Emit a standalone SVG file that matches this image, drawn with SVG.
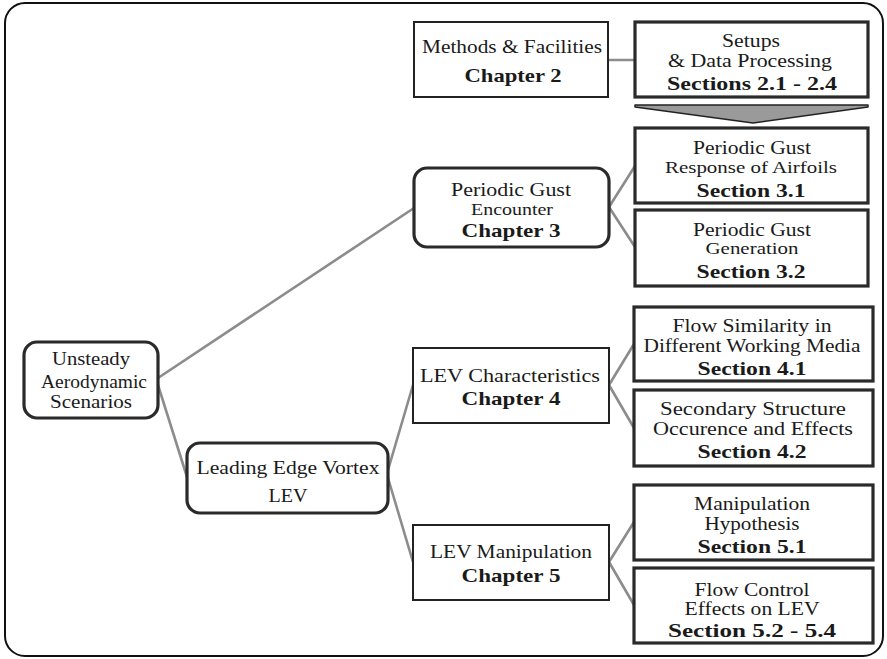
<svg xmlns="http://www.w3.org/2000/svg" width="887" height="659" viewBox="0 0 887 659">
<style>
text{font-family:"Liberation Serif","DejaVu Serif","Times New Roman",serif;font-size:19px;fill:#1a1a1a;text-anchor:middle}
.b{font-weight:bold;font-size:19.5px}
.s{font-size:17px}
.xs{font-size:16px}
.m{font-size:18px}
.thin{fill:#fff;stroke:#222;stroke-width:2}
.thick{fill:#fff;stroke:#2a2a2a;stroke-width:3.2}
.rnd{fill:#fff;stroke:#2a2a2a;stroke-width:3.2}
#connectors line{stroke:#8c8c8c;stroke-width:2.6;stroke-linecap:round}
</style>
<rect x="5" y="3" width="878" height="653" rx="20" ry="20" fill="#fff" stroke="#111" stroke-width="2"/>
<g id="connectors">
<line x1="158" y1="378" x2="414" y2="208"/>
<line x1="158" y1="385" x2="187" y2="477"/>
<line x1="388" y1="470" x2="413" y2="385"/>
<line x1="388" y1="478" x2="413" y2="562"/>
<line x1="609" y1="207" x2="635" y2="166"/>
<line x1="609" y1="207" x2="635" y2="247"/>
<line x1="608" y1="60" x2="635" y2="60"/>
<line x1="609" y1="385" x2="634" y2="344"/>
<line x1="609" y1="385" x2="634" y2="428"/>
<line x1="609" y1="562" x2="634" y2="522"/>
<line x1="609" y1="562" x2="634" y2="605"/>
</g>
<g id="arrow">
<polygon points="635,105 868,105 868,107 753,123 635,107" fill="#9a9a9a" stroke="#222" stroke-width="1.5" stroke-linejoin="round"/>
</g>
<g id="methods">
<rect class="thin" x="414" y="22" width="194" height="75"/>
<text x="512" y="53" textLength="180" lengthAdjust="spacingAndGlyphs">Methods &amp; Facilities</text>
<text class="b" x="513" y="82" textLength="97" lengthAdjust="spacingAndGlyphs">Chapter 2</text>
</g>
<g id="setups">
<rect class="thick" x="635" y="22" width="233" height="75"/>
<text x="751" y="47" textLength="58" lengthAdjust="spacingAndGlyphs">Setups</text>
<text x="750" y="67" textLength="164" lengthAdjust="spacingAndGlyphs">&amp; Data Processing</text>
<text class="b" x="752" y="90" textLength="170" lengthAdjust="spacingAndGlyphs">Sections 2.1 - 2.4</text>
</g>
<g id="response">
<rect class="thick" x="635" y="128" width="233" height="75"/>
<text class="m" x="752" y="154" textLength="118" lengthAdjust="spacingAndGlyphs">Periodic Gust</text>
<text class="xs" x="751" y="173" textLength="172" lengthAdjust="spacingAndGlyphs">Response of Airfoils</text>
<text class="b" x="751" y="197" textLength="109" lengthAdjust="spacingAndGlyphs">Section 3.1</text>
</g>
<g id="generation">
<rect class="thick" x="635" y="210" width="233" height="76"/>
<text class="m" x="752" y="236" textLength="118" lengthAdjust="spacingAndGlyphs">Periodic Gust</text>
<text class="s" x="752" y="254" textLength="93" lengthAdjust="spacingAndGlyphs">Generation</text>
<text class="b" x="751" y="278" textLength="109" lengthAdjust="spacingAndGlyphs">Section 3.2</text>
</g>
<g id="encounter">
<rect class="rnd" x="414" y="168" width="195" height="79" rx="13" ry="13"/>
<text class="m" x="511" y="196" textLength="120" lengthAdjust="spacingAndGlyphs">Periodic Gust</text>
<text class="s" x="512" y="215" textLength="82" lengthAdjust="spacingAndGlyphs">Encounter</text>
<text class="b" x="511" y="237" textLength="99" lengthAdjust="spacingAndGlyphs">Chapter 3</text>
</g>
<g id="unsteady">
<rect class="rnd" x="24" y="342" width="134" height="76" rx="13" ry="13"/>
<text class="m" x="91" y="365" textLength="78" lengthAdjust="spacingAndGlyphs">Unsteady</text>
<text class="m" x="94" y="388" textLength="106" lengthAdjust="spacingAndGlyphs">Aerodynamic</text>
<text class="m" x="91" y="408" textLength="82" lengthAdjust="spacingAndGlyphs">Scenarios</text>
</g>
<g id="lev">
<rect class="rnd" x="187" y="443" width="201" height="70" rx="13" ry="13"/>
<text x="288" y="474" textLength="183" lengthAdjust="spacingAndGlyphs">Leading Edge Vortex</text>
<text x="288" y="502" textLength="39" lengthAdjust="spacingAndGlyphs">LEV</text>
</g>
<g id="levchar">
<rect class="thin" x="413" y="348" width="196" height="75"/>
<text x="510" y="382" textLength="180" lengthAdjust="spacingAndGlyphs">LEV Characteristics</text>
<text class="b" x="511" y="405" textLength="99" lengthAdjust="spacingAndGlyphs">Chapter 4</text>
</g>
<g id="flowsim">
<rect class="thick" x="634" y="307" width="239" height="74"/>
<text class="m" x="752" y="332" textLength="159" lengthAdjust="spacingAndGlyphs">Flow Similarity in</text>
<text class="m" x="752" y="352" textLength="217" lengthAdjust="spacingAndGlyphs">Different Working Media</text>
<text class="b" x="752" y="375" textLength="109" lengthAdjust="spacingAndGlyphs">Section 4.1</text>
</g>
<g id="secondary">
<rect class="thick" x="634" y="390" width="239" height="76"/>
<text class="m" x="753" y="415" textLength="186" lengthAdjust="spacingAndGlyphs">Secondary Structure</text>
<text class="m" x="753" y="435" textLength="200" lengthAdjust="spacingAndGlyphs">Occurence and Effects</text>
<text class="b" x="752" y="458" textLength="109" lengthAdjust="spacingAndGlyphs">Section 4.2</text>
</g>
<g id="levmanip">
<rect class="thin" x="413" y="525" width="196" height="75"/>
<text x="511" y="558" textLength="162" lengthAdjust="spacingAndGlyphs">LEV Manipulation</text>
<text class="b" x="511" y="582" textLength="99" lengthAdjust="spacingAndGlyphs">Chapter 5</text>
</g>
<g id="hypothesis">
<rect class="thick" x="634" y="485" width="239" height="75"/>
<text class="m" x="752" y="510" textLength="116" lengthAdjust="spacingAndGlyphs">Manipulation</text>
<text class="m" x="752" y="530" textLength="95" lengthAdjust="spacingAndGlyphs">Hypothesis</text>
<text class="b" x="752" y="553" textLength="109" lengthAdjust="spacingAndGlyphs">Section 5.1</text>
</g>
<g id="flowcontrol">
<rect class="thick" x="634" y="568" width="239" height="75"/>
<text class="m" x="752" y="596" textLength="115" lengthAdjust="spacingAndGlyphs">Flow Control</text>
<text class="m" x="752" y="615" textLength="135" lengthAdjust="spacingAndGlyphs">Effects on LEV</text>
<text class="b" x="752" y="637" textLength="168" lengthAdjust="spacingAndGlyphs">Section 5.2 - 5.4</text>
</g>
</svg>
